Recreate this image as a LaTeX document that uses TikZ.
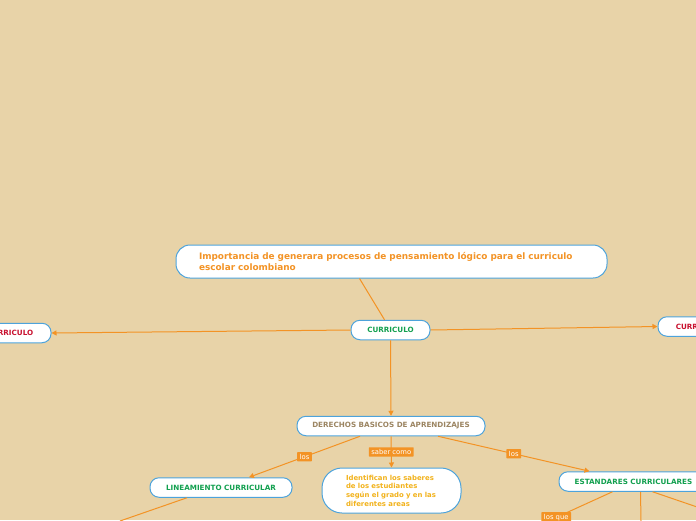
\documentclass[tikz,border=0pt]{standalone}
\usepackage{fontspec}
\setmainfont{DejaVu Sans}
\usetikzlibrary{arrows.meta}
\definecolor{bg}{HTML}{E8D3A8}
\definecolor{bd}{HTML}{4DA3DB}
\definecolor{ln}{HTML}{F39325}
\definecolor{gr}{HTML}{12A04F}
\definecolor{rd}{HTML}{C8102E}
\definecolor{br}{HTML}{9C8562}
\definecolor{yl}{HTML}{F2B21B}
\begin{document}
\begin{tikzpicture}[x=1pt,y=-1pt,
 box/.style={draw=bd, fill=white, line width=1pt, rounded corners=9pt, inner sep=0pt, minimum height=19.5pt, font=\fontsize{7.2}{8}\selectfont\bfseries},
 conn/.style={draw=ln, line width=1pt},
 arr/.style={conn, -{Triangle[length=5pt,width=5pt]}},
 lab/.style={fill=ln, text=white, font=\fontsize{6.8}{7}\selectfont, inner xsep=2.5pt, inner ysep=2pt, rounded corners=0.5pt}]
\fill[bg] (0,0) rectangle (696,520);
\useasboundingbox (0,0) rectangle (696,520);

\node[box, rounded corners=14pt, minimum width=431pt, minimum height=33pt, text width=385pt, align=left, text=ln, font=\fontsize{8.9}{11}\selectfont\bfseries] (title) at (391.5,261.5) {Importancia de generara procesos de pensamiento lógico para el curriculo\\escolar colombiano};
\node[box, minimum width=79pt, text=gr] (cur) at (390.5,330) {CURRICULO};
\node[box, minimum width=82pt, text=rd] (curL) at (10,333) {CURRICULO};
\node[box, minimum width=82pt, text=rd] (curR) at (699,326.5) {CURRICULO};
\node[box, minimum width=188pt, text=br] (der) at (391,426) {DERECHOS BASICOS DE APRENDIZAJES};
\node[box, minimum width=142pt, text=gr] (lin) at (221,487.5) {LINEAMIENTO CURRICULAR};
\node[box, minimum width=149pt, text=gr] (est) at (633.5,481.5) {ESTANDARES CURRICULARES};
\node[box, rounded corners=20pt, minimum width=139pt, minimum height=45pt, text width=91pt, align=left, text=yl, font=\fontsize{6.9}{8.7}\selectfont\bfseries] (ide) at (391.5,490.5) {\mbox{Identifican los saberes}\\\mbox{de los estudiantes}\\\mbox{según el grado y en las}\\\mbox{diferentes areas}};

\coordinate (e1) at (120,521);
\coordinate (e2) at (500,543);
\coordinate (e3) at (641,521);
\coordinate (e4) at (700,508);

\draw[conn] ([xshift=-32pt]title.south) -- ([xshift=-6pt]cur.north);
\draw[arr] (cur.west) -- (curL.east);
\draw[arr] (cur.east) -- (curR.west);
\draw[arr] (cur.south) -- (der.north);
\draw[arr] ([xshift=-31pt]der.south) -- node[lab] (l1) {los} ([xshift=28pt]lin.north);
\draw[arr] (der.south) -- node[lab] (l2) {saber como} (ide.north);
\draw[arr] ([xshift=47pt]der.south) -- node[lab] (l3) {los} ([xshift=-44pt]est.north);
\draw[conn] ([xshift=-34pt]lin.south) -- (e1);
\draw[conn] ([xshift=-21pt]est.south) -- node[lab, pos=0.5] (l4) {los que} (e2);
\draw[conn] ([xshift=7pt]est.south) -- (e3);
\draw[conn] ([xshift=19pt]est.south) -- (e4);
\end{tikzpicture}
\end{document}
